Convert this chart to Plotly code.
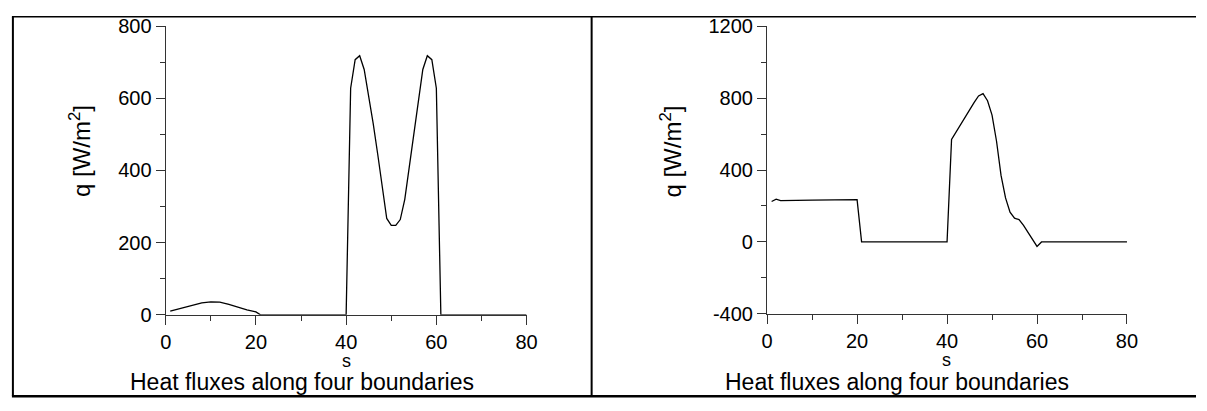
import plotly.graph_objects as go

W, H = 1207, 411

# Left panel data
s_left = [1, 2, 4, 6, 8, 10, 12, 14, 16, 18, 20, 21, 40, 41, 42, 43, 44, 45, 46, 47, 48,
          49, 50, 51, 52, 53, 54, 55, 56, 57, 58, 59, 60, 61, 80]
q_left = [10, 13, 20, 27, 33, 36, 35, 29, 21, 14, 8, 0, 0, 628, 707, 718, 680, 610, 530, 445, 357,
          267, 248, 248, 264, 320, 410, 505, 600, 680, 718, 707, 628, 0, 0]

# Right panel data
s_right = [1, 2, 3, 5, 10, 15, 20, 21, 40, 41, 42, 43, 44, 45, 46, 47, 48, 49, 50,
           51, 52, 53, 54, 55, 56, 57, 58, 59, 60, 61, 80]
q_right = [225, 238, 230, 232, 233, 234, 235, 0, 0, 570, 612, 655, 695, 735, 775, 812, 825, 785, 705,
           560, 370, 245, 165, 132, 124, 92, 55, 18, -25, 0, 0]

x_ticks = [0, 20, 40, 60, 80]
x_ticktext = ["0", "20", "40", "60", "80"]
y_ticks_left = [0, 200, 400, 600, 800]
y_ticktext_left = ["0", "200", "400", "600", "800"]
y_ticks_right = [-400, 0, 400, 800, 1200]
y_ticktext_right = ["-400", "0", "400", "800", "1200"]

title_text = "Heat fluxes along four boundaries"
x_title = "s"
y_title = "q [W/m<sup>2</sup>]"

FONT = "Liberation Sans, Arial, sans-serif"


def px(x):
    return x / W


def py(y):
    return 1 - y / H


fig = go.Figure()
fig.add_trace(go.Scatter(x=s_left, y=q_left, mode="lines", line=dict(color="black", width=1.3),
                         xaxis="x", yaxis="y", showlegend=False))
fig.add_trace(go.Scatter(x=s_right, y=q_right, mode="lines", line=dict(color="black", width=1.3),
                         xaxis="x2", yaxis="y2", showlegend=False))

axis_common = dict(showline=True, linecolor="#333", linewidth=1.3, showgrid=False, zeroline=False,
                   ticks="outside", tickcolor="#333", tickwidth=1.2, ticklen=9,
                   tickfont=dict(family=FONT, size=20, color="black"))

fig.update_layout(
    width=W, height=H, margin=dict(l=0, r=0, t=0, b=0),
    paper_bgcolor="white", plot_bgcolor="white",
    font=dict(family=FONT, color="black"),
    xaxis=dict(domain=[px(162), px(528)], range=[0, 80], tickvals=x_ticks, ticktext=x_ticktext, anchor="y",
               minor=dict(dtick=10, ticks="outside", ticklen=5, tickcolor="#333"), **axis_common),
    yaxis=dict(domain=[py(321), py(16)], range=[0, 800], tickvals=y_ticks_left, ticktext=y_ticktext_left,
               anchor="x", minor=dict(dtick=100, ticks="outside", ticklen=5, tickcolor="#333"), **axis_common),
    xaxis2=dict(domain=[px(772), px(1137)], range=[0, 80], tickvals=x_ticks, ticktext=x_ticktext, anchor="y2",
                minor=dict(dtick=10, ticks="outside", ticklen=5, tickcolor="#333"), **axis_common),
    yaxis2=dict(domain=[py(320), py(16)], range=[-400, 1200], tickvals=y_ticks_right, ticktext=y_ticktext_right,
                anchor="x2", minor=dict(dtick=200, ticks="outside", ticklen=5, tickcolor="#333"), **axis_common),
)

annotations = []
for cx_axis, cx_panel, cx_ytitle, s_y in [(345, 300, 75, 370), (954, 904, 675, 369)]:
    annotations.append(dict(x=px(cx_axis), y=py(s_y), xref="paper", yref="paper", text=x_title,
                            showarrow=False, font=dict(size=18, family=FONT), xanchor="center", yanchor="middle"))
    annotations.append(dict(x=px(cx_panel), y=py(392), xref="paper", yref="paper", text=title_text,
                            showarrow=False, font=dict(size=23, family=FONT), xanchor="center", yanchor="middle"))
    annotations.append(dict(x=px(cx_ytitle), y=py(148), xref="paper", yref="paper", text=y_title,
                            textangle=-90, showarrow=False, font=dict(size=24, family=FONT),
                            xanchor="center", yanchor="middle"))
fig.update_layout(annotations=annotations)

shapes = [
    dict(type="line", xref="paper", yref="paper", x0=px(6), x1=1, y0=py(6), y1=py(6), line=dict(color="black", width=1.5)),
    dict(type="line", xref="paper", yref="paper", x0=px(6), x1=1, y0=py(407), y1=py(407), line=dict(color="black", width=2.5)),
    dict(type="line", xref="paper", yref="paper", x0=px(7), x1=px(7), y0=py(6), y1=py(407), line=dict(color="black", width=2)),
    dict(type="line", xref="paper", yref="paper", x0=px(594), x1=px(594), y0=py(6), y1=py(407), line=dict(color="black", width=2)),
]
fig.update_layout(shapes=shapes)

fig.write_html("out.html")
